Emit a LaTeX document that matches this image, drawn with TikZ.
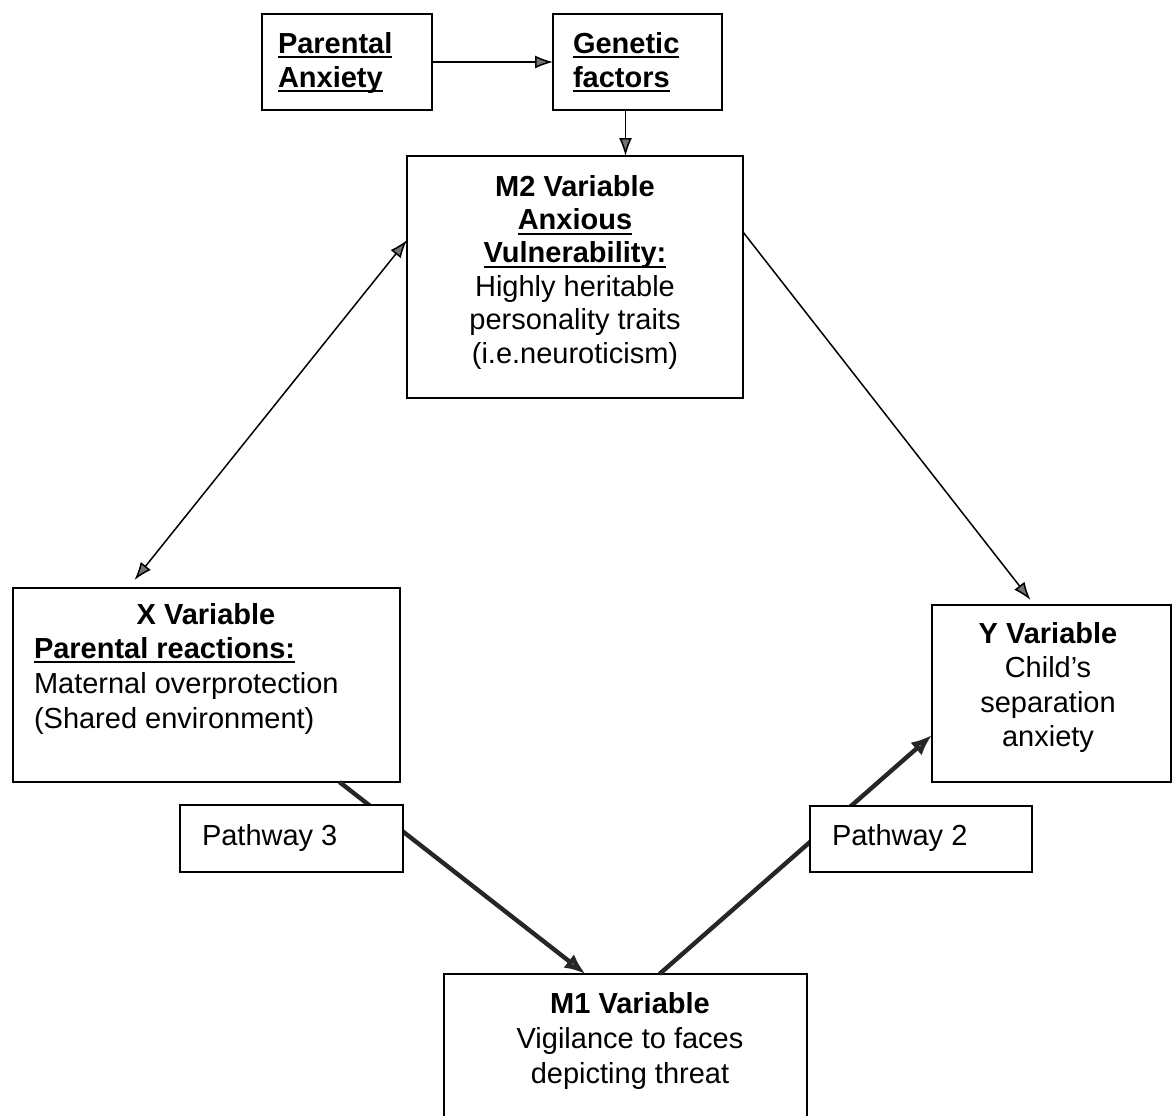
\documentclass[tikz,border=0pt]{standalone}
\usepackage{fontspec}
\setmainfont{Liberation Sans}
\usetikzlibrary{arrows.meta}
\newcommand\bodyfont{\fontsize{14.5}{17.3}\selectfont}
% bold text with a rule drawn just below the baseline
\newcommand\ulb[1]{{\bfseries\setbox0\hbox{#1}\leavevmode\rlap{\rule[-2.6pt]{\wd0}{0.9pt}}\box0}}
\begin{document}
\begin{tikzpicture}[
  x=0.5pt, y=-0.5pt,
  box/.style={draw, line width=0.9pt, fill=white, inner sep=0pt, outer sep=0pt},
  txt/.style={inner sep=0pt, outer sep=0pt, font=\bodyfont},
  tipthin/.style={},
  thinarrow/.style={line width=0.75pt, -{Latex[length=9pt,width=6.5pt,fill=black!55]}},
  thinboth/.style={line width=0.75pt, {Latex[length=9pt,width=6.5pt,fill=black!55]}-{Latex[length=9pt,width=6.5pt,fill=black!55]}},
  thickarrow/.style={line width=2.2pt, draw=black!85, -{Latex[length=10.5pt,width=8.5pt,fill=black!55]}}
]
\useasboundingbox (0,0) rectangle (1173,1115);

% boxes
\node[box, minimum width=85pt,  minimum height=48pt]   (pa) at (347,62) {};
\node[box, minimum width=84.5pt,minimum height=48pt]   (gf) at (637.5,62) {};
\node[box, minimum width=168pt, minimum height=121pt]  (m2) at (575,277) {};
\node[box, minimum width=193.5pt,minimum height=97pt]  (xv) at (206.5,685) {};
\node[box, minimum width=119.5pt,minimum height=88.5pt](yv) at (1051.5,693.5) {};
\node[box, minimum width=181.5pt,minimum height=78pt]  (m1) at (625.5,1052) {};

% box texts
\node[txt, anchor=north west, align=left, font=\fontsize{14.5}{17}\selectfont] (patext) at (278,32)
  {\ulb{Parental}\\\ulb{Anxiety}};
\node[txt, anchor=north west, align=left, font=\fontsize{14.5}{17}\selectfont] (gftext) at (573,32)
  {\ulb{Genetic}\\\ulb{factors}};
\node[txt, anchor=north, align=center, font=\fontsize{14.5}{16.7}\selectfont] (m2text) at (575,175)
  {\textbf{M2 Variable}\\\ulb{Anxious}\\\ulb{Vulnerability:}\\Highly heritable\\personality traits\\(i.e.neuroticism)};
\node[txt, anchor=base] (xvtitle) at (206,624) {\textbf{X Variable}};
\node[txt, anchor=north west, align=left, font=\fontsize{14.5}{17.5}\selectfont] (xvtext) at (34,637)
  {\ulb{Parental reactions:}\\Maternal overprotection\\(Shared environment)};
\node[txt, anchor=north, align=center] (yvtext) at (1048,622)
  {\textbf{Y Variable}\\Child’s\\separation\\anxiety};
\node[txt, anchor=north, align=center, font=\fontsize{14.5}{17.5}\selectfont] (m1text) at (630,992)
  {\textbf{M1 Variable}\\Vigilance to faces\\depicting threat};

% connectors
\draw[thinarrow] (pa.east) -- (gf.west);
\draw[thinarrow] ([xshift=-6pt]gf.south) -- ([xshift=-6pt]gf.south |- m2.north);
\draw[thinboth] ([yshift=18.5pt]m2.west) -- ([xshift=-36pt,yshift=4pt]xv.north);
\draw[thinarrow] ([yshift=22.5pt]m2.east) -- ([xshift=-10.5pt,yshift=2.5pt]yv.north);
\draw[thickarrow] ([xshift=66.5pt]xv.south) -- ([xshift=-20pt]m1.north);
\draw[thickarrow] ([xshift=17pt]m1.north) -- ([yshift=-20.75pt]yv.west);

% pathway labels sit over the thick connectors
\node[box, minimum width=111.5pt, minimum height=33.5pt] (p3) at (291.5,838.5) {};
\node[box, minimum width=111pt,   minimum height=33pt]   (p2) at (921,839) {};
\node[txt, anchor=base west] (p3text) at (202,845) {Pathway 3};
\node[txt, anchor=base west] (p2text) at (832,845) {Pathway 2};
\end{tikzpicture}
\end{document}
